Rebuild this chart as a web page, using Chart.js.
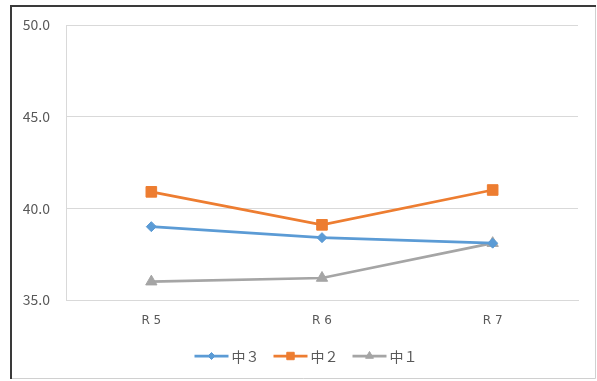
<!DOCTYPE html>
<html>
<head>
<meta charset="utf-8">
<script src="https://cdn.jsdelivr.net/npm/chart.js@4/dist/chart.umd.min.js"></script>
<style>
  html, body { margin: 0; padding: 0; background: #ffffff; }
  #wrap { position: relative; width: 597px; height: 381px; }
  canvas { display: block; }
</style>
</head>
<body>
<div id="wrap"><canvas id="c" width="597" height="381"></canvas></div>
<script>
// Categories (fiscal years) and series
const categories = ['R 5', 'R 6', 'R 7'];
const seriesNames = ['中３', '中２', '中１'];
const grade3 = [39.0, 38.4, 38.1];
const grade2 = [40.9, 39.1, 41.0];
const grade1 = [36.0, 36.2, 38.1];
const yTicks = [35, 40, 45, 50];

const FONT = '"Noto Sans CJK JP", "Noto Sans", sans-serif';
const LATIN = '"DejaVu Sans", sans-serif';
const TEXT = '#595959';
const GRID = '#d9d9d9';

// Outer frame of the chart object
const framePlugin = {
  id: 'frame',
  beforeDraw(chart) {
    const ctx = chart.ctx;
    ctx.save();
    ctx.fillStyle = '#ffffff';
    ctx.fillRect(0, 0, chart.width, chart.height);
    ctx.lineWidth = 1;
    ctx.strokeStyle = '#d0d0d0';
    ctx.beginPath();
    ctx.moveTo(595.5, 6); ctx.lineTo(595.5, 378.5);
    ctx.lineTo(11, 378.5);
    ctx.stroke();
    ctx.lineWidth = 2;
    ctx.strokeStyle = '#3a3a3a';
    ctx.beginPath();
    ctx.moveTo(11, 379); ctx.lineTo(11, 6); ctx.lineTo(596, 6);
    ctx.stroke();
    ctx.restore();
  }
};

// Legend drawn as line + marker + name, centred under the plot
const lineLegendPlugin = {
  id: 'lineLegend',
  afterDraw(chart) {
    const ctx = chart.ctx;
    const y = 356;
    const seg = 34, gap = 3, between = 14;
    ctx.save();
    ctx.font = '14px ' + FONT;
    ctx.textBaseline = 'middle';
    const items = chart.data.datasets.map(ds => ({ ds, w: seg + gap + ctx.measureText(ds.label).width }));
    const total = items.reduce((s, it) => s + it.w, 0) + between * (items.length - 1);
    let x = 306 - total / 2;
    items.forEach(({ ds, w }) => {
      ctx.strokeStyle = ds.borderColor;
      ctx.lineWidth = ds.borderWidth;
      ctx.beginPath();
      ctx.moveTo(x, y); ctx.lineTo(x + seg, y);
      ctx.stroke();
      ctx.fillStyle = ds.pointBackgroundColor;
      ctx.strokeStyle = ds.pointBorderColor;
      ctx.lineWidth = 1;
      Chart.helpers.drawPoint(ctx, {
        pointStyle: ds.pointStyle,
        radius: ds.pointRadius * 0.7,
        rotation: 0,
        borderWidth: 1
      }, x + seg / 2, y);
      ctx.fillStyle = TEXT;
      ctx.textAlign = 'left';
      ctx.fillText(ds.label, x + seg + gap, y + 1);
      x += w + between;
    });
    ctx.restore();
  }
};

function series(label, data, color, style, radius) {
  return {
    label, data,
    borderColor: color,
    backgroundColor: color,
    pointBackgroundColor: color,
    pointBorderColor: color,
    borderWidth: 2.75,
    pointStyle: style,
    pointRadius: radius,
    pointHoverRadius: radius,
    pointBorderWidth: 1,
    tension: 0
  };
}

new Chart(document.getElementById('c'), {
  type: 'line',
  data: {
    labels: categories,
    datasets: [
      series(seriesNames[0], grade3, '#5b9bd5', 'rectRot', 5),
      series(seriesNames[1], grade2, '#ed7d31', 'rect', 7.5),
      series(seriesNames[2], grade1, '#a5a5a5', 'triangle', 6.5)
    ]
  },
  options: {
    responsive: false,
    animation: false,
    devicePixelRatio: 1,
    layout: { padding: { left: 12, right: 19, top: 25, bottom: 41 } },
    plugins: {
      legend: { display: false },
      tooltip: { enabled: false }
    },
    scales: {
      x: {
        offset: true,
        grid: { display: false, drawTicks: false },
        border: { display: true, color: GRID, width: 1 },
        ticks: { color: TEXT, font: { family: LATIN, size: 12 }, padding: 14 },
        afterFit(scale) { scale.height = 40; }
      },
      y: {
        min: 35,
        max: 50,
        afterBuildTicks(scale) { scale.ticks = yTicks.map(v => ({ value: v })); },
        grid: { color: GRID, lineWidth: 1, drawTicks: false },
        border: { display: true, color: GRID, width: 1 },
        ticks: {
          color: TEXT,
          font: { family: FONT, size: 14 },
          padding: 16,
          callback: v => Number(v).toFixed(1)
        },
        afterFit(scale) { scale.width = 54; }
      }
    }
  },
  plugins: [framePlugin, lineLegendPlugin]
});
</script>
</body>
</html>
